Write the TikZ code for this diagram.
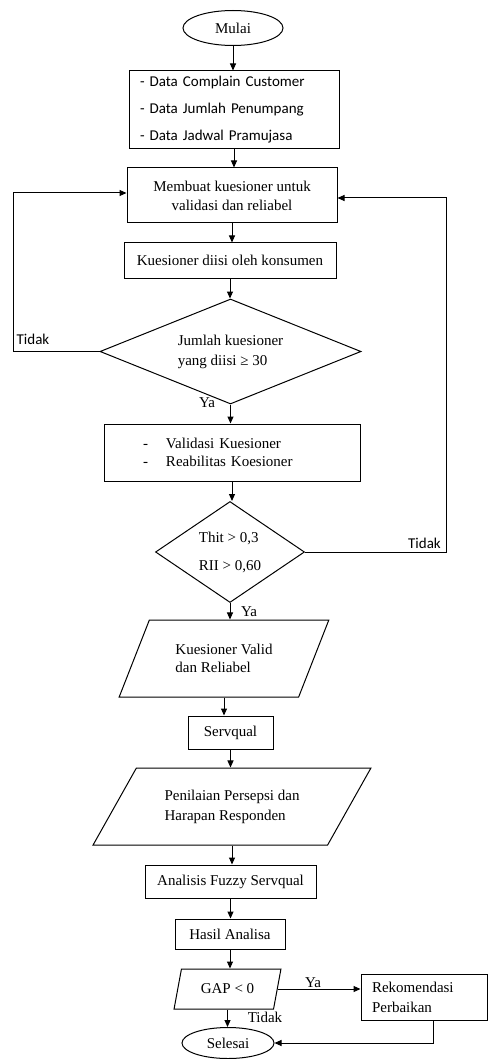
\documentclass[tikz,border=0pt]{standalone}
\usepackage{fontspec}
\setmainfont{Liberation Serif}
\newfontfamily\calibri{Carlito}
\usetikzlibrary{positioning,arrows.meta,shapes.geometric,calc}

\begin{document}
\begin{tikzpicture}[
  x=1pt,y=-1pt,
  >={Triangle[length=7pt,width=6pt]},
  line width=1pt,
  every node/.style={font=\fontsize{15}{19}\selectfont},
  kotak/.style={draw,rectangle,inner sep=0pt,align=center},
  terminal/.style={draw,ellipse,inner sep=0pt},
  keputusan/.style={draw,diamond,inner sep=0pt,align=left},
  datain/.style={draw,trapezium,trapezium stretches=true,inner sep=0pt,align=left},
  teks sans/.style={font=\calibri\fontsize{15}{19}\selectfont}
]
\useasboundingbox (0,0) rectangle (488,1059);

% awal dan data
\node[terminal,minimum width=100,minimum height=35] (mulai) at (233,28) {Mulai};
\node[kotak,minimum width=210,minimum height=78,text width=188,align=left,
  font=\calibri\fontsize{15}{27}\selectfont] (data) at (234,110)
  {- Data Complain Customer\\- Data Jumlah Penumpang\\- Data Jadwal Pramujasa};
\node[kotak,minimum width=210,minimum height=55] (buat) at (232,195.5)
  {Membuat kuesioner untuk\\validasi dan reliabel};
\node[kotak,minimum width=212,minimum height=35] (isi) at (230,260.5)
  {Kuesioner diisi oleh konsumen};

% cek jumlah kuesioner
\node[keputusan,shape aspect=2.5,minimum width=261,minimum height=105,
  font=\fontsize{15}{20}\selectfont] (jml) at (230.5,351.5)
  {Jumlah kuesioner\\yang diisi ≥ 30};
\node[kotak,minimum width=256,minimum height=57,text width=178,align=left,
  font=\fontsize{15}{18}\selectfont] (valid) at (232,452.5)
  {\makebox[23pt][l]{-}Validasi Kuesioner\\\makebox[23pt][l]{-}Reabilitas Koesioner};
\node[keputusan,shape aspect=1.5,minimum width=149,minimum height=101,
  font=\fontsize{15}{28}\selectfont] (uji) at (230,552)
  {Thit > 0,3\\RII > 0,60};

% servqual
\node[datain,trapezium left angle=55.5,trapezium right angle=124.5,
  minimum width=210,minimum height=77,font=\fontsize{15}{18}\selectfont]
  (kvalid) at (224,658.5) {Kuesioner Valid\\dan Reliabel};
\node[kotak,minimum width=85,minimum height=33] (servq) at (230.5,732.5) {Servqual};
\node[datain,trapezium left angle=47.7,trapezium right angle=132.3,
  minimum width=278,minimum height=77,font=\fontsize{15}{20}\selectfont]
  (nilai) at (232,806.5) {Penilaian Persepsi dan\\Harapan Responden};
\node[kotak,minimum width=171,minimum height=33] (fuzzy) at (230.5,881.5)
  {Analisis Fuzzy Servqual};
\node[kotak,minimum width=110,minimum height=30] (hasil) at (230,934) {Hasil Analisa};
\node[datain,trapezium left angle=67,trapezium right angle=113,
  minimum width=107,minimum height=40] (gap) at (227.5,989) {GAP < 0};
\node[kotak,minimum width=126,minimum height=46,text width=104,align=left,
  font=\fontsize{15}{20}\selectfont] (rekom) at (424,997)
  {Rekomendasi\\Perbaikan};
\node[terminal,minimum width=92,minimum height=31] (selesai) at (228,1043) {Selesai};

% alur utama
\foreach \a/\b in {mulai/data,data/buat,buat/isi,isi/jml,jml/valid,valid/uji,
  uji/kvalid,kvalid/servq,servq/nilai,nilai/fuzzy,fuzzy/hasil,hasil/gap,gap/selesai}
  \draw[->] (\a.south) -- (\a.south |- \b.north);

% umpan balik
\coordinate (kiri) at (13,193);
\coordinate (kanan) at (446,198);
\draw[->] (jml.west) -| (kiri) -- (kiri -| buat.west);
\draw[->] (uji.east) -| (kanan) -- (kanan -| buat.east);
\draw[->] (gap.east) -- (gap.east -| rekom.west);
\draw[->] ([xshift=9pt]rekom.south) |- (selesai.east);

% label
\node[teks sans] (tidak1) at (33,339) {Tidak};
\node (ya1) at (207,403) {Ya};
\node[teks sans] (tidak2) at (424.5,543) {Tidak};
\node (ya2) at (249,612) {Ya};
\node (ya3) at (313,983) {Ya};
\node (tidak3) at (265,1017) {Tidak};
\end{tikzpicture}
\end{document}
